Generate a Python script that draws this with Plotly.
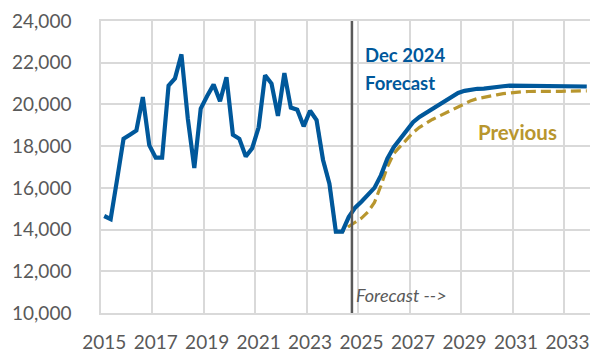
import plotly.graph_objects as go

# Quarterly series, 2015Q1 .. 2033Q4
start_year = 2015
n_quarters = 76

dec_2024 = [
    14650, 14500, 16400, 18350, 18550, 18750, 20350, 18050,
    17450, 17450, 20900, 21250, 22400, 19300, 16950, 19800,
    20400, 20950, 20150, 21300, 18550, 18350, 17500, 17900,
    18900, 21400, 21000, 19450, 21500, 19850, 19750, 18950,
    19700, 19250, 17350, 16200, 13900, 13900, 14600, 15050,
    15350, 15650, 16000, 16600, 17400, 17950, 18350, 18750,
    19150, 19400, 19600, 19800, 20000, 20200, 20380, 20550,
    20650, 20720, 20750, 20760, 20780, 20830, 20870, 20900,
    20900, 20900, 20900, 20900, 20880, 20880, 20900, 20880,
    20870, 20870, 20870, 20860,
]

# Previous forecast starts in 2022Q2
previous_start = 29
previous = [
    19850, 19750, 18950, 19700, 19250, 17350, 16200, 13900,
    13900, 14150, 14350, 14550, 14850, 15300, 16100, 17000,
    17650, 18000, 18300, 18650, 18900, 19100, 19280, 19430,
    19580, 19730, 19880, 20050, 20180, 20280, 20350, 20400,
    20460, 20520, 20560, 20590, 20610, 20620, 20630, 20630,
    20630, 20630, 20630, 20640, 20640, 20640, 20650,
]

year_labels = ["2015", "2017", "2019", "2021", "2023", "2025", "2027", "2029", "2031", "2033"]
y_ticks = [10000, 12000, 14000, 16000, 18000, 20000, 22000, 24000]
forecast_start = 2024.625  # boundary between 2024Q3 and 2024Q4

x_all = [start_year + k * 0.25 for k in range(n_quarters)]
x_prev = x_all[previous_start:previous_start + len(previous)]

BLUE = "#00589B"
GOLD = "#B8962E"
GRID = "#D9D9D9"
TXT = "#595959"
FONT = "Lato"

fig = go.Figure()
fig.add_trace(go.Scatter(
    x=x_prev, y=previous, mode="lines", name="Previous",
    line=dict(color=GOLD, width=3.2, dash="10px,5px"),
))
fig.add_trace(go.Scatter(
    x=x_all, y=dec_2024, mode="lines", name="Dec 2024 Forecast",
    line=dict(color=BLUE, width=4.2),
))

fig.add_shape(type="line", x0=forecast_start, x1=forecast_start, xref="x",
              y0=0, y1=1, yref="paper", line=dict(color="#595959", width=2.5))

fig.add_annotation(x=2025.05, y=22368, xref="x", yref="y", text="<b>Dec 2024</b>",
                   showarrow=False, xanchor="left", yanchor="middle",
                   font=dict(family=FONT, size=18.5, color=BLUE))
fig.add_annotation(x=2025.05, y=21040, xref="x", yref="y", text="<b>Forecast</b>",
                   showarrow=False, xanchor="left", yanchor="middle",
                   font=dict(family=FONT, size=18.5, color=BLUE))
fig.add_annotation(x=2031.06, y=18690, xref="x", yref="y", text="<b>Previous</b>",
                   showarrow=False, xanchor="center", yanchor="middle",
                   font=dict(family=FONT, size=20.5, color=GOLD))
fig.add_annotation(x=2024.72, y=10863, xref="x", yref="y", text="<i>Forecast --></i>",
                   showarrow=False, xanchor="left", yanchor="middle",
                   font=dict(family=FONT, size=18, color=TXT))

fig.update_layout(
    width=595, height=354,
    margin=dict(l=101, r=5, t=21, b=41),
    paper_bgcolor="white", plot_bgcolor="white",
    showlegend=False,
    font=dict(family=FONT, color=TXT),
)
fig.update_xaxes(
    range=[2014.875, 2033.875],
    automargin=False,
    tickmode="array",
    tickvals=[int(s) for s in year_labels],
    ticktext=year_labels,
    tickangle=0,
    showgrid=False,
    ticks="",
    ticklabelstandoff=11,
    tickfont=dict(family=FONT, size=19, color=TXT),
    minor=dict(tickmode="array",
               tickvals=[int(s) - 0.125 for s in year_labels],
               showgrid=True, gridcolor=GRID, gridwidth=1.5, ticks=""),
    showline=True, mirror=True, linecolor=GRID, linewidth=1.5,
    zeroline=False,
)
fig.update_yaxes(
    range=[10000, 24000],
    automargin=False,
    tickmode="array",
    tickvals=y_ticks,
    ticktext=[f"{v:,}" for v in y_ticks],
    showgrid=True, gridcolor=GRID, gridwidth=1.5,
    ticks="",
    ticklabelstandoff=24,
    tickfont=dict(family=FONT, size=19, color=TXT),
    showline=True, linecolor=GRID, linewidth=1.5,
    zeroline=False,
)

fig.write_html("out.html")
